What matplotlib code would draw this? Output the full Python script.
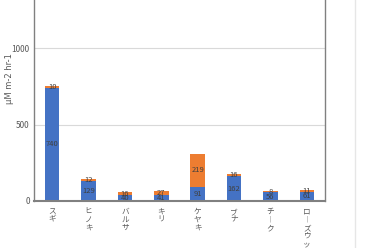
import matplotlib

matplotlib.use("Agg")

import matplotlib.pyplot as plt
from matplotlib.lines import Line2D
import numpy as np

plt.rcParams["font.family"] = ["Noto Sans CJK JP", "DejaVu Sans"]

# data
species = ["スギ", "ヒノキ", "バルサ", "キリ", "ケヤキ", "ブナ", "チーク", "ローズウッド"]
base_values = [740, 129, 40, 41, 91, 162, 56, 61]
top_values = [10, 12, 16, 27, 219, 16, 8, 11]
yticks = [0, 500, 1000]

BLUE = "#4472C4"
ORANGE = "#ED7D31"
GRAY = "#595959"
LABEL = "#404040"

fig = plt.figure(figsize=(3.7, 2.48), dpi=100)
ax = fig.add_axes([34 / 370, 47 / 248, 291 / 370, 201 / 248])

x = np.arange(len(species))
base = np.array(base_values)
top = np.array(top_values)

ax.bar(x, base, width=0.4, color=BLUE, zorder=2)
ax.bar(x, top, width=0.4, bottom=base, color=ORANGE, zorder=2)

for xi, b, t in zip(x, base, top):
    ax.text(xi, b / 2, str(b), ha="center", va="center", fontsize=5.5, color=LABEL, zorder=3)
    ax.text(xi, b + t / 2, str(t), ha="center", va="center", fontsize=5.5, color=LABEL, zorder=3)

ax.set_xlim(-0.5, len(species) - 0.5)
ax.set_ylim(0, 1314)
ax.set_yticks(yticks)
ax.set_yticklabels([str(v) for v in yticks], fontsize=6, color=GRAY)
ax.tick_params(axis="y", length=0, pad=3)
ax.tick_params(axis="x", length=0)
ax.set_xticks(x)
ax.set_xticklabels([])
ax.yaxis.grid(True, color="#D9D9D9", linewidth=0.8, zorder=0)
ax.set_axisbelow(True)

# vertical category labels, one character per line
for xi, name in zip(x, species):
    txt = "\n".join("︱" if ch == "ー" else ch for ch in name)
    ax.annotate(txt, xy=(xi, 0), xycoords="data", xytext=(0, -5),
                textcoords="offset points", ha="center", va="top",
                fontsize=5.5, color=GRAY, linespacing=1.0)

# y label placed by hand, the automatic one drifts off the left edge
fig.text(10 / 370, 1 - 79 / 248, "µM m-2 hr-1", rotation=90, ha="center", va="center",
         fontsize=6, color=GRAY, family="DejaVu Sans")

for side in ["left", "right"]:
    ax.spines[side].set_color("#808080")
    ax.spines[side].set_linewidth(1.0)
ax.spines["bottom"].set_color("#808080")
ax.spines["bottom"].set_linewidth(1.5)
ax.spines["top"].set_visible(False)

fig.add_artist(Line2D([355 / 370, 355 / 370], [0, 1], color="#E6E6E6", linewidth=1.0))

fig.savefig("out.png", dpi=100)
